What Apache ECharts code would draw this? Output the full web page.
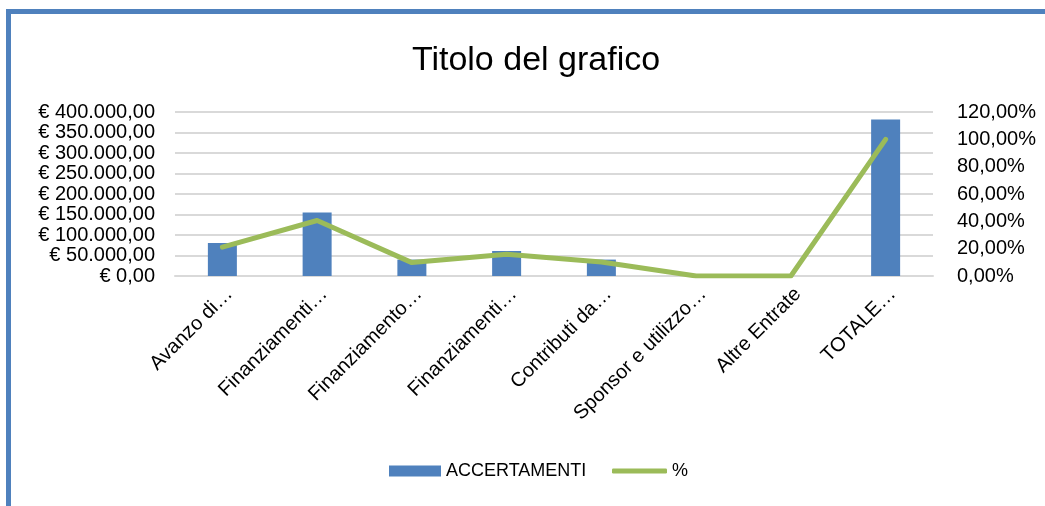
<!DOCTYPE html>
<html>
<head>
<meta charset="utf-8">
<script src="https://cdn.jsdelivr.net/npm/echarts@6/dist/echarts.min.js"></script>
<style>
html,body{margin:0;padding:0;background:#fff;}
#c{width:1045px;height:506px;}
</style>
</head>
<body>
<div id="c"></div>
<script>
const categories = ["Avanzo di…", "Finanziamenti…", "Finanziamento…", "Finanziamenti…", "Contributi da…", "Sponsor e utilizzo…", "Altre Entrate", "TOTALE…"];
const accertamenti = [80500, 154600, 40000, 61000, 40000, 0, 0, 381500];
const percent = [21.1, 40.6, 9.8, 15.9, 10.3, 0, 0, 100];
const leftTicks = { min: 0, max: 400000, interval: 50000 };
const rightTicks = { min: 0, max: 120, interval: 20 };

function euro(v) {
  const parts = v.toFixed(2).split('.');
  const intPart = parts[0].replace(/\B(?=(\d{3})+(?!\d))/g, '.');
  return '€ ' + intPart + ',' + parts[1];
}
function pct(v) { return v.toFixed(2).replace('.', ',') + '%'; }

const FONT = '"Liberation Sans", Arial, sans-serif';
const chart = echarts.init(document.getElementById('c'), null, { renderer: 'canvas' });
chart.setOption({
  animation: false,
  backgroundColor: '#ffffff',
  textStyle: { fontFamily: FONT },
  graphic: [
    { type: 'rect', shape: { x: 6, y: 9, width: 1045, height: 5 }, style: { fill: '#4F81BD' } },
    { type: 'rect', shape: { x: 6, y: 9, width: 5, height: 506 }, style: { fill: '#4F81BD' } }
  ],
  title: {
    text: 'Titolo del grafico',
    left: 531, top: 39, textAlign: 'center',
    textStyle: { fontFamily: FONT, fontSize: 34, fontWeight: 'normal', color: '#000' }
  },
  legend: [
    {
      data: [{ name: 'ACCERTAMENTI', icon: 'rect' }],
      left: 389, top: 462, padding: 0, itemWidth: 52, itemHeight: 11,
      textStyle: { fontFamily: FONT, fontSize: 18, color: '#000' }
    },
    {
      data: [{ name: '%', icon: 'roundRect', itemStyle: { color: '#9BBB59' } }],
      left: 612, top: 462, padding: 0, itemWidth: 55, itemHeight: 5,
      textStyle: { fontFamily: FONT, fontSize: 18, color: '#000' }
    }
  ],
  grid: { left: 175, right: 112, top: 112, bottom: 230, containLabel: false },
  xAxis: {
    type: 'category',
    data: categories,
    axisTick: { show: false },
    axisLine: { lineStyle: { color: '#D9D9D9', width: 2 } },
    axisLabel: { interval: 0, rotate: 45, margin: 8, verticalAlign: 'top', fontFamily: FONT, fontSize: 20, color: '#000' }
  },
  yAxis: [
    {
      type: 'value', min: leftTicks.min, max: leftTicks.max, interval: leftTicks.interval,
      axisLine: { show: false }, axisTick: { show: false },
      splitLine: { lineStyle: { color: '#D9D9D9', width: 2 } },
      axisLabel: { formatter: euro, margin: 20, fontFamily: FONT, fontSize: 20, lineHeight: 20, color: '#000',
        showMinLabel: true, showMaxLabel: true, hideOverlap: false }
    },
    {
      type: 'value', min: rightTicks.min, max: rightTicks.max, interval: rightTicks.interval,
      position: 'right',
      axisLine: { show: false }, axisTick: { show: false }, splitLine: { show: false },
      axisLabel: { formatter: pct, margin: 24, fontFamily: FONT, fontSize: 20, color: '#000',
        showMinLabel: true, showMaxLabel: true, hideOverlap: false }
    }
  ],
  series: [
    {
      name: 'ACCERTAMENTI', type: 'bar', data: accertamenti, barWidth: 29,
      itemStyle: { color: '#4F81BD' }, yAxisIndex: 0
    },
    {
      name: '%', type: 'line', data: percent, yAxisIndex: 1,
      symbol: 'none', lineStyle: { color: '#9BBB59', width: 5, cap: 'round', join: 'round' },
      itemStyle: { color: '#9BBB59' }, z: 5
    }
  ]
});
</script>
</body>
</html>
